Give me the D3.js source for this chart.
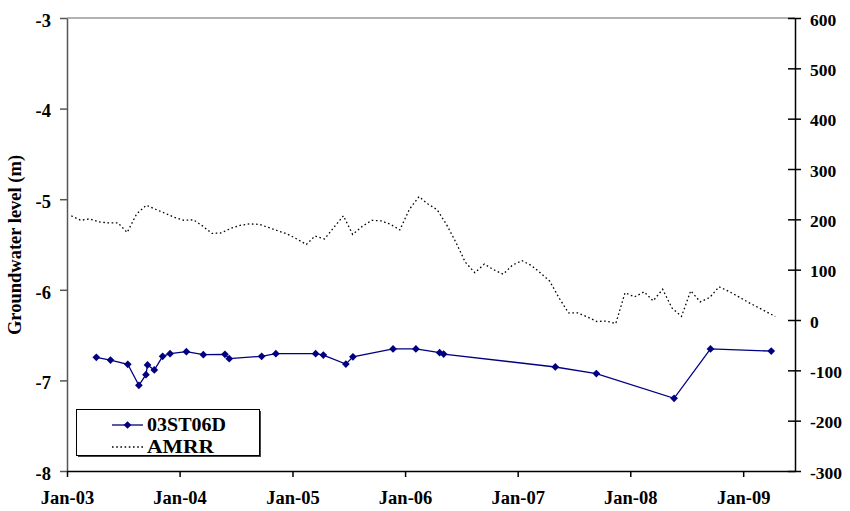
<!DOCTYPE html>
<html>
<head>
<meta charset="utf-8">
<script src="https://cdn.jsdelivr.net/npm/d3@7"></script>
<style>
  body { margin: 0; background: #fff; }
  text { font-family: "Liberation Serif", "Times New Roman", serif; font-weight: bold; fill: #000; }
</style>
</head>
<body>
<div id="chart"></div>
<script>
// 03ST06D groundwater level (left axis, m)
const wellDates = ["2003-04-06","2003-05-22","2003-07-17","2003-08-22","2003-09-14","2003-09-19","2003-10-11","2003-11-07","2003-12-01","2004-01-23","2004-03-18","2004-05-27","2004-06-10","2004-09-23","2004-11-08","2005-03-17","2005-04-11","2005-06-23","2005-07-16","2005-11-23","2006-02-05","2006-04-23","2006-05-06","2007-05-03","2007-09-13","2008-05-22","2008-09-17","2009-04-02"];
const wellLevels = [-6.745,-6.775,-6.822,-7.054,-6.937,-6.830,-6.885,-6.734,-6.705,-6.683,-6.716,-6.712,-6.760,-6.734,-6.705,-6.705,-6.72,-6.82,-6.74,-6.653,-6.653,-6.694,-6.709,-6.852,-6.924,-7.198,-6.653,-6.676];

// AMRR monthly values (right axis), starting Jan 2003
const amrrStart = "2003-01-15";
const amrrValues = [207,198,201,195,193,193,174,211,228,220,212,204,198,199,187,172,173,182,188,191,190,184,177,171,161,150,167,161,184,207,170,186,198,197,190,179,220,245,231,219,190,154,115,94,111,100,91,109,118,108,94,77,44,14,14,6,-3,-2,-7,54,46,56,38,61,24,7,58,36,45,66,57,47,36,26,17,7];

const leftTicks = [-8,-7,-6,-5,-4,-3];
const rightTicks = [-300,-200,-100,0,100,200,300,400,500,600];
const seriesNames = ["03ST06D", "AMRR"];

const width = 850;
const height = 511;
const margin = { top: 18, right: 55, bottom: 40, left: 67 };

const parse = d3.timeParse("%Y-%m-%d");
const well = wellDates.map((d, i) => ({ date: parse(d), value: wellLevels[i] }));
const amrr = amrrValues.map((v, i) => ({ date: d3.timeMonth.offset(parse(amrrStart), i), value: v }));

const svg = d3.select("#chart")
    .append("svg")
    .attr("width", width)
    .attr("height", height);

const x = d3.scaleTime()
    .domain([new Date(2003, 0, 1), new Date(2009, 5, 18)])
    .range([margin.left, width - margin.right]);

const yLeft = d3.scaleLinear()
    .domain([-8, -3])
    .range([height - margin.bottom, margin.top]);

const yRight = d3.scaleLinear()
    .domain([-300, 600])
    .range([height - margin.bottom, margin.top]);

// plain hyphen minus, like the original
const fmt = d => String(d);

// Plot area top border
svg.append("line")
    .attr("x1", margin.left).attr("x2", width - margin.right)
    .attr("y1", margin.top).attr("y2", margin.top)
    .attr("stroke", "#999").attr("stroke-width", 1.5);

// Left axis
const leftAxis = svg.append("g")
    .attr("transform", `translate(${margin.left},0)`)
    .call(d3.axisLeft(yLeft).tickValues(leftTicks).tickSize(7).tickSizeOuter(0).tickPadding(9).tickFormat(fmt));
leftAxis.select(".domain").attr("stroke", "#555").attr("stroke-width", 1.5);
leftAxis.selectAll(".tick line").attr("stroke", "#555").attr("stroke-width", 1.5);
leftAxis.selectAll("text").style("font-size", "18.5px").attr("dy", "0.45em");

// Right axis
const rightAxis = svg.append("g")
    .attr("transform", `translate(${width - margin.right},0)`)
    .call(d3.axisRight(yRight).tickValues(rightTicks).tickSize(6).tickSizeOuter(0).tickPadding(9).tickFormat(fmt));
rightAxis.select(".domain").attr("stroke", "#000").attr("stroke-width", 1.5);
rightAxis.selectAll(".tick line").attr("x1", -7).attr("stroke", "#000").attr("stroke-width", 1.5);
rightAxis.selectAll("text").style("font-size", "17.5px").attr("dy", "0.4em");

// Bottom axis
const bottomAxis = svg.append("g")
    .attr("transform", `translate(0,${height - margin.bottom})`)
    .call(d3.axisBottom(x).ticks(d3.timeYear.every(1)).tickSize(6).tickSizeOuter(0).tickPadding(14).tickFormat(d3.timeFormat("%b-%y")));
bottomAxis.select(".domain").attr("stroke", "#000").attr("stroke-width", 1.5);
bottomAxis.selectAll(".tick line").attr("stroke", "#000").attr("stroke-width", 1.5);
bottomAxis.selectAll("text").style("font-size", "18.5px");

// Y axis title
svg.append("text")
    .attr("transform", `translate(21, 245) rotate(-90)`)
    .attr("text-anchor", "middle")
    .style("font-size", "18.5px")
    .text("Groundwater level (m)");

// AMRR dotted line
const amrrLine = d3.line()
    .x(d => x(d.date))
    .y(d => yRight(d.value));

svg.append("path")
    .datum(amrr)
    .attr("d", amrrLine)
    .attr("fill", "none")
    .attr("stroke", "#000")
    .attr("stroke-width", 1.3)
    .attr("stroke-dasharray", "1.6,2.6");

// 03ST06D line + diamonds
const wellLine = d3.line()
    .x(d => x(d.date))
    .y(d => yLeft(d.value));

svg.append("path")
    .datum(well)
    .attr("d", wellLine)
    .attr("fill", "none")
    .attr("stroke", "#000080")
    .attr("stroke-width", 1.3);

const diamond = d3.symbol().type(d3.symbolSquare).size(30);

svg.selectAll(".marker")
    .data(well)
    .join("path")
    .attr("class", "marker")
    .attr("d", diamond)
    .attr("transform", d => `translate(${x(d.date)},${yLeft(d.value)}) rotate(45)`)
    .attr("fill", "#000080");

// Legend
const legend = svg.append("g");
legend.append("rect")
    .attr("x", 78).attr("y", 411)
    .attr("width", 183).attr("height", 46)
    .attr("fill", "#444");
legend.append("rect")
    .attr("x", 76.5).attr("y", 409.5)
    .attr("width", 183).attr("height", 46)
    .attr("fill", "#fff").attr("stroke", "#000").attr("stroke-width", 1);

legend.append("line")
    .attr("x1", 112).attr("x2", 143).attr("y1", 425).attr("y2", 425)
    .attr("stroke", "#000080").attr("stroke-width", 1.3);
legend.append("path")
    .attr("d", diamond)
    .attr("transform", "translate(127.5,425) rotate(45)")
    .attr("fill", "#000080");
legend.append("line")
    .attr("x1", 112).attr("x2", 143).attr("y1", 447).attr("y2", 447)
    .attr("stroke", "#000").attr("stroke-width", 1.3)
    .attr("stroke-dasharray", "1.6,2.6");

legend.selectAll(".label")
    .data(seriesNames)
    .join("text")
    .attr("class", "label")
    .attr("x", 147)
    .attr("y", (d, i) => 431 + i * 22)
    .attr("textLength", (d, i) => i === 0 ? 79 : 67)
    .attr("lengthAdjust", "spacingAndGlyphs")
    .style("font-size", "18px")
    .text(d => d);
</script>
</body>
</html>
